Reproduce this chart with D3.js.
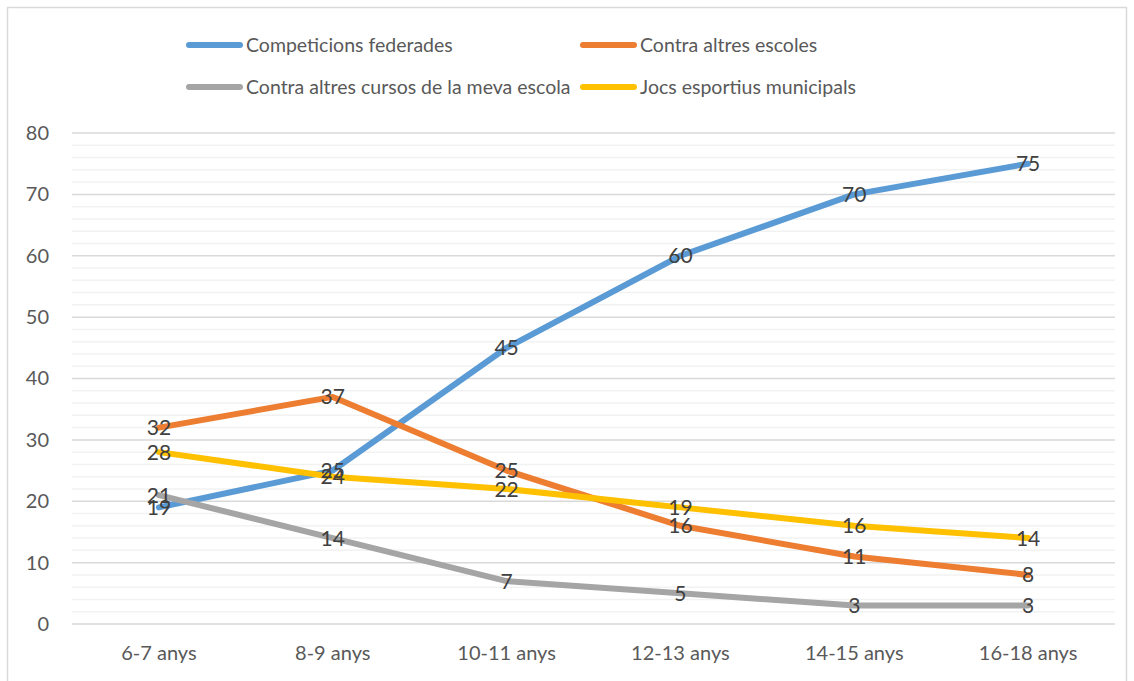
<!DOCTYPE html>
<html>
<head>
<meta charset="utf-8">
<script src="https://cdn.jsdelivr.net/npm/d3@7"></script>
<style>
  body { margin: 0; background: #fff; }
  svg text { font-family: Lato, "Open Sans", sans-serif; }
</style>
</head>
<body>
<div id="chart"></div>
<script>
const categories = ['6-7 anys', '8-9 anys', '10-11 anys', '12-13 anys', '14-15 anys', '16-18 anys'];
const federades = [19, 25, 45, 60, 70, 75];
const altresEscoles = [32, 37, 25, 16, 11, 8];
const altresCursos = [21, 14, 7, 5, 3, 3];
const jocsMunicipals = [28, 24, 22, 19, 16, 14];
const yTicks = [0, 10, 20, 30, 40, 50, 60, 70, 80];

// series in Excel draw order
const series = [
  { name: 'Competicions federades', values: federades, color: '#5B9BD5' },
  { name: 'Contra altres escoles', values: altresEscoles, color: '#ED7D31' },
  { name: 'Contra altres cursos de la meva escola', values: altresCursos, color: '#A5A5A5' },
  { name: 'Jocs esportius municipals', values: jocsMunicipals, color: '#FFC000' },
];

const width = 1134, height = 681;
const plot = { left: 72, right: 1115, top: 133, bottom: 624 };

const svg = d3.select('#chart')
  .append('svg')
  .attr('width', width)
  .attr('height', height);

// chart area border
svg.append('rect')
  .attr('x', 7.5).attr('y', 7.5)
  .attr('width', 1119).attr('height', 690)
  .attr('fill', 'none')
  .attr('stroke', '#d9d9d9')
  .attr('stroke-width', 1.5);

const x = d3.scaleBand()
  .domain(categories)
  .range([plot.left, plot.right]);

const y = d3.scaleLinear()
  .domain([0, 80])
  .range([plot.bottom, plot.top]);

// minor gridlines every 2
svg.append('g')
  .selectAll('line')
  .data(d3.range(0, 81, 2).filter(v => v % 10 !== 0))
  .enter()
  .append('line')
  .attr('x1', plot.left).attr('x2', plot.right)
  .attr('y1', d => y(d)).attr('y2', d => y(d))
  .attr('stroke', '#f2f2f2')
  .attr('stroke-width', 1.5);

// major gridlines
svg.append('g')
  .selectAll('line')
  .data(yTicks)
  .enter()
  .append('line')
  .attr('x1', plot.left).attr('x2', plot.right)
  .attr('y1', d => y(d)).attr('y2', d => y(d))
  .attr('stroke', '#d9d9d9')
  .attr('stroke-width', 1.5);

// y axis labels
const yAxis = svg.append('g')
  .attr('transform', `translate(${plot.left},0)`)
  .call(d3.axisLeft(y).tickValues(yTicks).tickSize(0).tickPadding(23));
yAxis.select('.domain').remove();
yAxis.selectAll('text')
  .style('font-size', '20px')
  .attr('fill', '#595959');

// x axis labels
const xAxis = svg.append('g')
  .attr('transform', `translate(0,${plot.bottom})`)
  .call(d3.axisBottom(x).tickSize(0).tickPadding(22));
xAxis.select('.domain').remove();
xAxis.selectAll('text')
  .style('font-size', '20px')
  .attr('fill', '#595959');

const cx = c => x(c) + x.bandwidth() / 2;

const line = d3.line()
  .x((d, i) => cx(categories[i]))
  .y(d => y(d));

svg.append('g')
  .selectAll('path')
  .data(series)
  .enter()
  .append('path')
  .attr('d', d => line(d.values))
  .attr('fill', 'none')
  .attr('stroke', d => d.color)
  .attr('stroke-width', 6)
  .attr('stroke-linecap', 'round')
  .attr('stroke-linejoin', 'round');

// data labels centred on points
series.forEach(s => {
  svg.append('g')
    .selectAll('text')
    .data(s.values)
    .enter()
    .append('text')
    .attr('x', (d, i) => cx(categories[i]))
    .attr('y', d => y(d))
    .attr('dy', '0.36em')
    .attr('text-anchor', 'middle')
    .style('font-size', '21px')
    .attr('fill', '#404040')
    .text(d => d);
});

// legend
const legendPos = [
  { x: 186, y: 45 },
  { x: 580, y: 45 },
  { x: 186, y: 87 },
  { x: 580, y: 87 },
];
const legend = svg.append('g')
  .selectAll('g')
  .data(series)
  .enter()
  .append('g')
  .attr('transform', (d, i) => `translate(${legendPos[i].x},${legendPos[i].y})`);

legend.append('line')
  .attr('x1', 3).attr('x2', 54)
  .attr('y1', 0).attr('y2', 0)
  .attr('stroke', d => d.color)
  .attr('stroke-width', 6)
  .attr('stroke-linecap', 'round');

legend.append('text')
  .attr('x', 60)
  .attr('y', 0)
  .attr('dy', '0.35em')
  .style('font-size', '19.5px')
  .attr('fill', '#595959')
  .text(d => d.name);
</script>
</body>
</html>
